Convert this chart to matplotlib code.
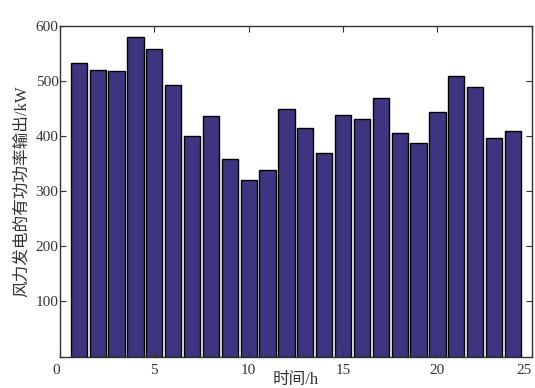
import matplotlib
matplotlib.use("Agg")
import matplotlib.pyplot as plt

hours = list(range(1, 25))
power = [533, 521, 518, 580, 558, 492, 400, 436, 358, 320, 338, 450,
         415, 370, 439, 431, 470, 405, 387, 443, 510, 489, 397, 409]
xticks = [0, 5, 10, 15, 20, 25]
yticks = [100, 200, 300, 400, 500, 600]

plt.rcParams['font.family'] = ['Liberation Serif', 'Noto Sans CJK SC', 'DejaVu Sans']

fig = plt.figure(figsize=(5.35, 3.88), dpi=100)
ax = fig.add_axes([0.112, 0.081, 0.882, 0.852])
ax.bar(hours, power, width=0.86, color='#3d3580', edgecolor='black', linewidth=1.0)
ax.set_xlim(0, 24.8)
ax.set_ylim(0, 600)
ax.set_xticks(xticks)
ax.set_yticks(yticks)
ax.tick_params(direction='in', top=True, right=True, labelsize=11, length=4, width=0.8, colors='#333333')
ax.tick_params(axis='x', pad=5)
ax.tick_params(axis='y', pad=1)
labels = ax.get_xticklabels()
labels[0].set_horizontalalignment('right')
labels[-1].set_horizontalalignment('right')
for s in ax.spines.values():
    s.set_color('#333333')
    s.set_linewidth(1.0)
ax.set_xlabel('时间/h', fontsize=12, labelpad=-3, color='#333333')
ax.set_ylabel('风力发电的有功功率输出/kW', fontsize=12, labelpad=4, color='#333333')
fig.savefig('out.png', dpi=100)
